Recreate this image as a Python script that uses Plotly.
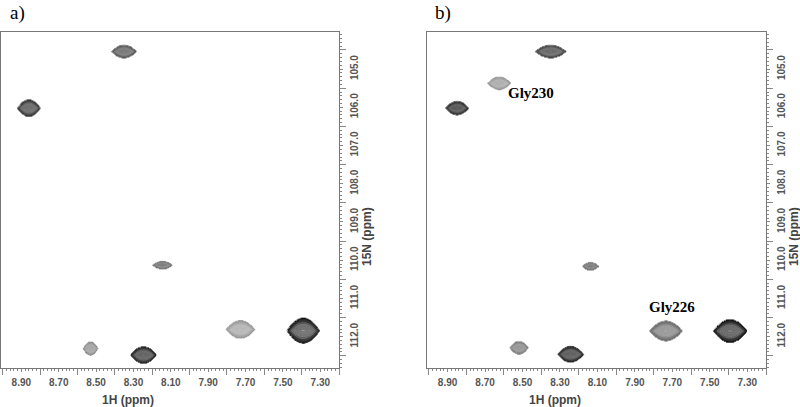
import numpy as np
import plotly.graph_objects as go

# ---------------- data ----------------
# Panel a) peak centres (1H ppm, 15N ppm) and half line-widths (ppm)
a_h  = [8.351, 8.860, 8.145, 7.728, 7.392, 8.530, 8.247]
a_n  = [104.54, 106.02, 110.13, 111.81, 111.84, 112.31, 112.48]
a_hw = [0.067, 0.062, 0.054, 0.078, 0.088, 0.040, 0.070]
a_hh = [0.17, 0.22, 0.105, 0.235, 0.33, 0.18, 0.22]

# Panel b) peak centres and half line-widths
b_h  = [8.350, 8.625, 8.850, 8.137, 7.735, 7.392, 8.519, 8.244]
b_n  = [104.54, 105.37, 106.02, 110.16, 111.85, 111.85, 112.29, 112.46]
b_hw = [0.083, 0.062, 0.062, 0.045, 0.088, 0.090, 0.050, 0.070]
b_hh = [0.17, 0.17, 0.18, 0.105, 0.26, 0.30, 0.17, 0.21]

# assignment labels in panel b
b_lab_text = ["Gly230", "Gly226"]
b_lab_h = [8.457, 7.703]
b_lab_n = [105.62, 111.22]

# axis ticks
x_labels = [8.90, 8.70, 8.50, 8.30, 8.10, 7.90, 7.70, 7.50, 7.30]
x_major = [9.00, 8.80, 8.60, 8.40, 8.20, 8.00, 7.80, 7.60, 7.40, 7.20]
y_labels = [105.0, 106.0, 107.0, 108.0, 109.0, 110.0, 111.0, 112.0]
y_major = [104.5, 105.5, 106.5, 107.5, 108.5, 109.5, 110.5, 111.5, 112.5]
x_range = [9.01, 7.20]
y_range = [112.82, 104.03]

# ---------------- styles ----------------
a_tone = [80, 45, 115, 150, 20, 140, 30]
b_tone = [60, 150, 35, 115, 100, 15, 120, 30]

fig = go.Figure()


def add_peak(cx, cy, hw, hh, tone, xa, ya):
    a = hw / 1.52
    b = hh / 2.3
    xs = cx + np.linspace(-1.25 * hw, 1.25 * hw, 101)
    ys = cy + np.linspace(-1.25 * hh, 1.25 * hh, 101)
    X, Y = np.meshgrid(xs, ys)
    Z = np.exp(-(((X - cx) / a) ** 2 + np.abs(Y - cy) / b))
    t = tone
    mid = int(t + (255 - t) * 0.5)
    lt = int(t + (255 - t) * 0.9)
    cs = [[0.0, "rgba(255,255,255,0)"], [0.095, "rgba(255,255,255,0)"],
          [0.1, f"rgb({t},{t},{t})"], [0.3, f"rgb({mid},{mid},{mid})"],
          [1.0, f"rgb({lt},{lt},{lt})"]]
    fig.add_trace(go.Contour(
        x=xs, y=ys, z=Z, xaxis=xa, yaxis=ya,
        zmin=0, zmax=1, autocontour=False,
        contours=dict(start=0.1, end=0.95, size=0.09, coloring="heatmap"),
        colorscale=cs, showscale=False,
        line=dict(color=f"rgba({t},{t},{t},0.6)", width=0.6),
        hoverinfo="skip",
    ))


for cx, cy, hw, hh, t in zip(a_h, a_n, a_hw, a_hh, a_tone):
    add_peak(cx, cy, hw, hh, t, "x", "y")
for cx, cy, hw, hh, t in zip(b_h, b_n, b_hw, b_hh, b_tone):
    add_peak(cx, cy, hw, hh, t, "x2", "y2")

# dummy traces so overlay tick axes render
for xa, ya in [("x3", "y"), ("x", "y3"), ("x4", "y2"), ("x2", "y4")]:
    fig.add_trace(go.Scatter(x=[None], y=[None], xaxis=xa, yaxis=ya,
                             showlegend=False, hoverinfo="skip"))

tickfont = dict(family="Liberation Sans, Arial", size=10, color="#555", weight="bold")
LINE = "#777"
TICK = "#888"

x_minor = [round(v, 2) for v in np.arange(7.20, 9.011, 0.02)]
y_minor = [round(v, 1) for v in np.arange(104.1, 112.81, 0.1)]


def xax(domain, anchor):
    return dict(domain=domain, range=x_range, anchor=anchor,
                tickmode="array", tickvals=x_labels,
                ticktext=[f"{v:.2f}" for v in x_labels],
                ticks="outside", ticklen=3, tickcolor=TICK, tickwidth=1,
                showline=True, linecolor=LINE, linewidth=1, mirror=True,
                showgrid=False, zeroline=False, tickfont=tickfont,
                ticklabelstandoff=2,
                minor=dict(tickmode="array", tickvals=x_minor, ticks="outside",
                           ticklen=2, tickcolor=TICK, showgrid=False))


def yax(domain, anchor):
    return dict(domain=domain, range=y_range, anchor=anchor, side="right",
                tickmode="array", tickvals=y_labels,
                ticktext=[f"{v:.1f}" for v in y_labels], tickangle=-90,
                ticks="outside", ticklen=3, tickcolor=TICK, tickwidth=1,
                showline=True, linecolor=LINE, linewidth=1, mirror=True,
                showgrid=False, zeroline=False, tickfont=tickfont,
                ticklabelstandoff=3,
                minor=dict(tickmode="array", tickvals=y_minor, ticks="outside",
                           ticklen=2, tickcolor=TICK, showgrid=False))


def xov(over, anchor):
    return dict(overlaying=over, anchor=anchor, range=x_range, side="bottom",
                tickmode="array", tickvals=x_major, ticks="outside", ticklen=6,
                tickcolor=TICK, showticklabels=False, showline=False,
                showgrid=False, zeroline=False)


def yov(over, anchor):
    return dict(overlaying=over, anchor=anchor, range=y_range, side="right",
                tickmode="array", tickvals=y_major, ticks="outside", ticklen=6,
                tickcolor=TICK, showticklabels=False, showline=False,
                showgrid=False, zeroline=False)


ydom = [1 - 368 / 407, 1 - 32 / 407]
fig.update_layout(
    width=800, height=407, margin=dict(l=0, r=0, t=0, b=0),
    paper_bgcolor="white", plot_bgcolor="white", showlegend=False,
    xaxis=xax([0.001, 339 / 800], "y"),
    yaxis=yax(ydom, "x"),
    xaxis2=xax([427 / 800, 766 / 800], "y2"),
    yaxis2=yax(ydom, "x2"),
    xaxis3=xov("x", "y"),
    yaxis3=yov("y", "x"),
    xaxis4=xov("x2", "y2"),
    yaxis4=yov("y2", "x2"),
)

serif = "Liberation Serif, Times New Roman"
ann = []
for txt, xp in [("a)", 17), ("b)", 443)]:
    ann.append(dict(text=txt, x=xp / 800, y=1 - 13 / 407, xref="paper", yref="paper",
                    xanchor="center", yanchor="middle", showarrow=False,
                    font=dict(family=serif, size=19, color="black")))
titlefont = dict(family="Liberation Sans, Arial", size=12, color="#444", weight="bold")
for xp in [128 / 800, 555 / 800]:
    ann.append(dict(text="1H (ppm)", x=xp, y=1 - 400 / 407, xref="paper", yref="paper",
                    xanchor="center", yanchor="middle", showarrow=False, font=titlefont))
for xp in [367 / 800, 794 / 800]:
    ann.append(dict(text="15N (ppm)", x=xp, y=1 - 237 / 407, xref="paper", yref="paper",
                    xanchor="center", yanchor="middle", showarrow=False,
                    textangle=-90, font=titlefont))
for txt, hx, ny in zip(b_lab_text, b_lab_h, b_lab_n):
    ann.append(dict(text=f"<b>{txt}</b>", x=hx, y=ny, xref="x2", yref="y2",
                    xanchor="center", yanchor="middle", showarrow=False,
                    font=dict(family=serif, size=15, color="black")))
fig.update_layout(annotations=ann)

fig.write_html("out.html", config={"displayModeBar": False},
               post_script="document.body.style.margin='0';document.body.style.overflow='hidden';")
